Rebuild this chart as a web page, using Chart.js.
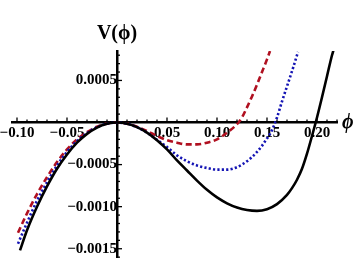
<!DOCTYPE html>
<html>
<head>
<meta charset="utf-8">
<script src="https://cdn.jsdelivr.net/npm/chart.js@4.4.1/dist/chart.umd.min.js"></script>
<style>
  html, body { margin: 0; padding: 0; background: #ffffff; }
  #wrap { width: 360px; height: 258px; position: relative; }
</style>
</head>
<body>
<div id="wrap"><canvas id="c" width="360" height="258"></canvas></div>
<script>
// ---- data ----
const blackPhi = [-0.097, -0.09, -0.08, -0.07, -0.06, -0.05, -0.04, -0.03, -0.02, -0.01, 0,
  0.01, 0.02, 0.03, 0.04, 0.05, 0.06, 0.07, 0.08, 0.09, 0.10, 0.11, 0.12, 0.13, 0.14, 0.15,
  0.16, 0.17, 0.175, 0.18, 0.185, 0.19, 0.195, 0.20, 0.205, 0.21, 0.215, 0.2165];
const blackV = [-0.00152, -0.00128, -0.00100, -0.00076, -0.00055, -0.00038, -0.00024, -0.000135, -0.00006, -0.000015, 0,
  -0.000014, -0.000055, -0.00012, -0.00021, -0.00032, -0.00045, -0.00057, -0.00069, -0.00080, -0.00089, -0.00096, -0.00101, -0.00104, -0.00105, -0.00103,
  -0.00097, -0.00086, -0.00078, -0.00068, -0.00055, -0.00037, -0.00016, 0.00006, 0.00030, 0.00055, 0.00080, 0.00086];

const bluePhi = [-0.099, -0.09, -0.08, -0.07, -0.06, -0.05, -0.04, -0.03, -0.02, -0.01, 0,
  0.01, 0.02, 0.03, 0.04, 0.05, 0.06, 0.07, 0.08, 0.09, 0.10, 0.11, 0.12, 0.13, 0.14, 0.15,
  0.155, 0.16, 0.165, 0.17, 0.175, 0.18, 0.181];
const blueV = [-0.00144, -0.00119, -0.00093, -0.00071, -0.00051, -0.00035, -0.00022, -0.000125, -0.000055, -0.000014, 0,
  -0.000014, -0.000055, -0.00012, -0.000205, -0.00029, -0.00039, -0.00046, -0.00051, -0.00054, -0.00056, -0.00056, -0.00053, -0.00046, -0.00035, -0.00019,
  -0.00009, 0.00006, 0.00025, 0.00043, 0.00061, 0.00080, 0.00084];

const redPhi = [-0.099, -0.09, -0.08, -0.07, -0.06, -0.05, -0.04, -0.03, -0.02, -0.01, 0,
  0.01, 0.02, 0.03, 0.04, 0.05, 0.06, 0.07, 0.08, 0.09, 0.10, 0.11, 0.12, 0.125, 0.13,
  0.135, 0.14, 0.145, 0.15, 0.153];
const redV = [-0.00131, -0.00108, -0.00085, -0.00065, -0.00047, -0.00032, -0.00020, -0.000115, -0.00005, -0.000013, 0,
  -0.000013, -0.00005, -0.0001, -0.00016, -0.00021, -0.00024, -0.00026, -0.00026, -0.00024, -0.00020, -0.00012, -0.00002, 0.00006, 0.00018,
  0.00031, 0.00045, 0.00060, 0.00075, 0.00085];

const xTickValues = [-0.10, -0.05, 0.05, 0.10, 0.15, 0.20];
const xTickLabels = ['\u22120.10', '\u22120.05', '0.05', '0.10', '0.15', '0.20'];
const yTickValues = [-0.0015, -0.0010, -0.0005, 0.0005];
const yTickLabels = ['\u22120.0015', '\u22120.0010', '\u22120.0005', '0.0005'];
const yAxisTitle = 'V(\u03D5)';
const xAxisTitle = '\u03D5';

// ---- build ----
const toPts = (xs, ys) => xs.map((x, i) => ({ x: x, y: ys[i] }));
const labelFont = { family: '"Liberation Serif", "Times New Roman", serif', size: 15, weight: 'bold' };
const noPad = (s) => { s.paddingLeft = 0; s.paddingRight = 0; s.paddingTop = 0; s.paddingBottom = 0; };

const decorPlugin = {
  id: 'decor',
  afterDraw(chart) {
    const ctx = chart.ctx;
    const xs = chart.scales.x, ys = chart.scales.y;
    const x0 = xs.getPixelForValue(0), y0 = ys.getPixelForValue(0);
    ctx.save();
    ctx.strokeStyle = '#000';
    ctx.lineWidth = 1.3;
    for (let k = -10; k <= 22; k++) {
      const px = xs.getPixelForValue(k / 100);
      const len = (k % 5 === 0) ? 5 : 3;
      ctx.beginPath(); ctx.moveTo(px, y0); ctx.lineTo(px, y0 - len); ctx.stroke();
    }
    for (let k = -16; k <= 8; k++) {
      const py = ys.getPixelForValue(k / 10000);
      const len = (k % 5 === 0) ? 5 : 3;
      ctx.beginPath(); ctx.moveTo(x0, py); ctx.lineTo(x0 + len, py); ctx.stroke();
    }
    ctx.fillStyle = '#000';
    ctx.textAlign = 'center';
    ctx.textBaseline = 'alphabetic';
    ctx.font = 'bold 20px "Liberation Serif", "DejaVu Serif", serif';
    ctx.fillText(yAxisTitle, x0, 39);
    ctx.font = 'bold italic 20px "Liberation Serif", "DejaVu Serif", serif';
    ctx.textAlign = 'left';
    ctx.fillText(xAxisTitle, xs.right + 5, y0 + 5);
    ctx.restore();
  }
};

new Chart(document.getElementById('c'), {
  type: 'scatter',
  data: {
    datasets: [
      { data: toPts(blackPhi, blackV), borderColor: '#000000', borderWidth: 2.6 },
      { data: toPts(bluePhi, blueV), borderColor: '#1414b4', borderWidth: 2.6, borderDash: [2.2, 2.2] },
      { data: toPts(redPhi, redV), borderColor: '#b01020', borderWidth: 2.6, borderDash: [6, 3.5] }
    ].map(d => Object.assign(d, { showLine: true, pointRadius: 0, fill: false, cubicInterpolationMode: 'monotone' }))
  },
  options: {
    responsive: false,
    animation: false,
    devicePixelRatio: 1,
    layout: { padding: { left: 12, right: 23, top: 51, bottom: 0 } },
    plugins: { legend: { display: false }, tooltip: { enabled: false } },
    scales: {
      x: {
        type: 'linear', min: -0.105, max: 0.22,
        position: { y: 0 },
        grid: { display: false, drawTicks: false },
        border: { display: true, color: '#000', width: 2.5 },
        afterBuildTicks: (s) => { s.ticks = xTickValues.map(v => ({ value: v })); },
        afterFit: noPad,
        ticks: {
          autoSkip: false, maxRotation: 0, minRotation: 0, padding: 2,
          color: '#000', font: labelFont,
          callback: (v, i) => xTickLabels[i]
        }
      },
      y: {
        type: 'linear', min: -0.00161, max: 0.00085,
        position: { x: 0 },
        grid: { display: false, drawTicks: false },
        border: { display: true, color: '#000', width: 2.5 },
        afterBuildTicks: (s) => { s.ticks = yTickValues.map(v => ({ value: v })); },
        afterFit: noPad,
        ticks: {
          autoSkip: false, padding: 4,
          color: '#000', font: labelFont,
          callback: (v, i) => yTickLabels[i]
        }
      }
    }
  },
  plugins: [decorPlugin]
});
</script>
</body>
</html>
